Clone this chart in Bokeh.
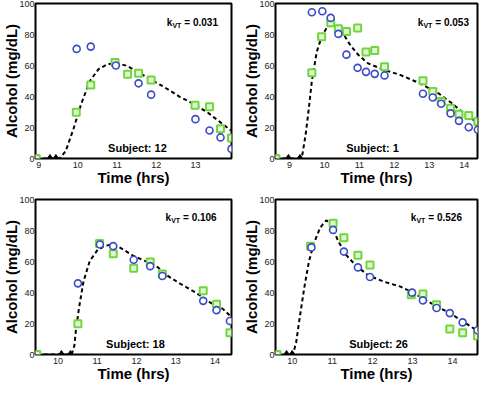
from bokeh.plotting import figure
from bokeh.layouts import gridplot
from bokeh.models import Range1d, FixedTicker, Label
from bokeh.embed import file_html
from bokeh.resources import INLINE

# ---------------- data ----------------
subjects = ["12", "1", "18", "26"]
k_vt = ["0.031", "0.053", "0.106", "0.526"]

# Subject 12
s12_blue_t = [9.97, 10.33, 10.97, 11.55, 11.87, 13.00, 13.36, 13.64, 13.92]
s12_blue_c = [70.7, 72.2, 60.0, 48.5, 41.2, 25.4, 18.1, 13.6, 6.2]
s12_green_t = [8.94, 9.96, 10.33, 10.95, 11.27, 11.55, 11.87, 12.99, 13.36, 13.64, 13.92]
s12_green_c = [0.0, 29.9, 47.4, 61.9, 54.4, 55.0, 50.7, 34.4, 33.4, 19.2, 13.2]
s12_dose_t = [9.29, 9.44]
s12_fit_t = [8.94, 9.53, 9.69, 9.89, 10.09, 10.31, 10.53, 10.77, 11.01, 11.25, 11.57, 11.89, 12.21, 12.60, 13.00, 13.32, 13.64, 13.90]
s12_fit_c = [0.0, 0.0, 4.7, 19.2, 35.6, 50.1, 57.7, 61.0, 61.4, 59.8, 55.3, 50.5, 46.0, 39.8, 34.6, 29.5, 23.3, 18.1]

# Subject 1
s1_blue_t = [9.64, 9.94, 10.18, 10.40, 10.63, 10.95, 11.19, 11.44, 11.72, 12.82, 13.10, 13.34, 13.61, 13.85, 14.13, 14.39]
s1_blue_c = [94.4, 95.0, 90.7, 80.4, 67.0, 58.5, 55.9, 54.6, 53.6, 41.8, 39.4, 35.3, 29.1, 24.3, 20.2, 18.6]
s1_green_t = [8.61, 9.64, 9.92, 10.18, 10.40, 10.63, 10.95, 11.19, 11.44, 11.72, 12.82, 13.10, 13.34, 13.61, 13.85, 14.13, 14.39]
s1_green_c = [0.0, 55.3, 78.6, 87.6, 83.7, 81.9, 84.2, 68.7, 69.7, 59.2, 50.1, 43.3, 36.7, 32.5, 28.5, 27.8, 23.9]
s1_dose_t = [8.97, 9.30]
s1_fit_t = [8.61, 9.30, 9.37, 9.46, 9.55, 9.64, 9.78, 9.92, 10.06, 10.21, 10.33, 10.52, 10.75, 10.98, 11.25, 11.62, 12.18, 12.73, 13.28, 13.65, 14.02, 14.37]
s1_fit_c = [0.0, 0.0, 2.7, 15.0, 31.5, 50.0, 68.7, 78.6, 84.1, 86.2, 85.6, 81.1, 72.8, 66.6, 61.4, 57.9, 53.8, 48.5, 41.8, 35.6, 28.5, 23.3]

# Subject 18
s18_blue_t = [10.51, 11.07, 11.41, 11.93, 12.35, 12.66, 13.70, 14.04, 14.38]
s18_blue_c = [45.9, 71.0, 69.9, 61.1, 57.0, 50.6, 34.6, 28.6, 21.6]
s18_green_t = [9.46, 10.51, 11.06, 11.41, 11.93, 12.35, 12.66, 13.70, 14.04, 14.38]
s18_green_c = [0.0, 19.9, 71.6, 65.0, 55.6, 59.6, 51.9, 41.1, 32.5, 14.0]
s18_dose_t = [10.09, 10.32]
s18_fit_t = [9.46, 10.35, 10.42, 10.46, 10.54, 10.65, 10.81, 11.01, 11.21, 11.42, 11.68, 11.91, 12.23, 12.55, 12.78, 13.10, 13.49, 13.88, 14.20, 14.37]
s18_fit_c = [0.0, 0.0, 5.7, 16.0, 30.4, 46.9, 60.2, 67.5, 70.1, 71.2, 67.5, 63.8, 60.2, 56.2, 51.0, 45.9, 40.3, 33.5, 29.4, 25.3]

# Subject 26
s26_blue_t = [10.48, 11.02, 11.29, 11.64, 11.94, 12.99, 13.26, 13.60, 13.93, 14.25, 14.62]
s26_blue_c = [69.1, 80.4, 66.4, 56.2, 50.0, 39.9, 34.9, 30.0, 26.7, 20.7, 15.6]
s26_green_t = [9.62, 10.46, 11.02, 11.29, 11.64, 11.94, 12.97, 13.26, 13.60, 13.93, 14.25, 14.62]
s26_green_c = [0.0, 69.9, 84.6, 75.3, 64.0, 57.8, 38.6, 39.1, 32.1, 16.4, 14.0, 11.9]
s26_dose_t = [9.86, 10.00]
s26_fit_t = [9.62, 10.02, 10.10, 10.18, 10.30, 10.42, 10.54, 10.70, 10.85, 10.98, 11.14, 11.34, 11.58, 11.90, 12.30, 12.70, 13.02, 13.34, 13.66, 13.98, 14.30, 14.60]
s26_fit_c = [0.0, 0.0, 7.8, 22.2, 42.8, 60.2, 71.6, 81.9, 86.6, 84.0, 73.6, 64.4, 57.6, 51.0, 46.9, 43.8, 39.7, 34.9, 30.4, 25.9, 20.6, 15.6]

x_ranges = [(8.92, 13.92), (8.60, 14.38), (9.43, 14.42), (9.585, 14.62)]
x_ticks = [[9, 10, 11, 12, 13], [9, 10, 11, 12, 13, 14], [10, 11, 12, 13, 14], [10, 11, 12, 13, 14]]
y_ticks = [0, 20, 40, 60, 80, 100]

panels = [
    (s12_blue_t, s12_blue_c, s12_green_t, s12_green_c, s12_dose_t, s12_fit_t, s12_fit_c),
    (s1_blue_t, s1_blue_c, s1_green_t, s1_green_c, s1_dose_t, s1_fit_t, s1_fit_c),
    (s18_blue_t, s18_blue_c, s18_green_t, s18_green_c, s18_dose_t, s18_fit_t, s18_fit_c),
    (s26_blue_t, s26_blue_c, s26_green_t, s26_green_c, s26_dose_t, s26_fit_t, s26_fit_c),
]

# ---------------- style ----------------
FONT = "Liberation Sans"
BLUE = "#3b4bc8"
GREEN = "#70d63c"
GREEN_FILL = "#e2f7d6"

# layout (left, right, top, bottom borders) per panel
borders = [(28, 9, 3, 34), (34, 3, 3, 34), (27, 8, 7, 30), (34, 3, 7, 30)]
# kVT label right-inset (px) and top-inset (px); subject label x fraction
kvt_inset = [10, 3, 12, 10]
kvt_top = [19, 19, 18, 18]
subj_frac = [0.52, 0.48, 0.51, 0.51]

figs = []
for i, (bt, bc, gt, gc, dt, ft, fc) in enumerate(panels):
    bl, br, bt_, bb = borders[i]
    p = figure(width=240, height=192, output_backend="svg", toolbar_location=None,
               x_range=Range1d(*x_ranges[i]), y_range=Range1d(0, 100),
               min_border_left=bl, min_border_right=br, min_border_top=bt_, min_border_bottom=bb)
    p.grid.visible = False
    p.outline_line_color = "black"
    p.outline_line_width = 2
    p.outline_line_alpha = 1
    p.background_fill_color = "white"
    p.border_fill_color = "white"

    for ax in (p.xaxis[0], p.yaxis[0]):
        ax.axis_line_color = None
        ax.major_tick_line_color = None
        ax.minor_tick_line_color = None
        ax.major_tick_out = 0
        ax.major_tick_in = 0
        ax.major_label_text_font = FONT
        ax.major_label_text_font_size = "9px"
        ax.major_label_text_color = "#222222"
        ax.axis_label_text_font = FONT
        ax.axis_label_text_font_style = "bold"
        ax.axis_label_text_font_size = "15px"
        ax.axis_label_text_color = "black"
    p.xaxis.axis_label_standoff = -2
    p.yaxis.axis_label_standoff = -4
    p.xaxis.ticker = FixedTicker(ticks=x_ticks[i])
    p.yaxis.ticker = FixedTicker(ticks=y_ticks)
    p.xaxis.axis_label = "Time (hrs)"
    p.yaxis.axis_label = "Alcohol (mg/dL)"
    p.xaxis.major_label_standoff = 3
    p.yaxis.major_label_standoff = 1

    p.line(ft, fc, line_color="black", line_width=2, line_dash="4 3")
    p.scatter(dt, [0] * len(dt), marker="diamond", size=8, fill_color="black", line_color="black")
    p.scatter(gt, gc, marker="square", size=7, line_color=GREEN, line_width=2, fill_color=GREEN_FILL)
    p.scatter(bt, bc, marker="circle", size=7, line_color=BLUE, line_width=1.6, fill_color="white")

    x0, x1 = x_ranges[i]
    frame_w = 240 - bl - br
    # kVT annotation: k + subscript VT + value
    kx = x1 - (kvt_inset[i] + 57) * (x1 - x0) / frame_w
    ky = 100 - kvt_top[i] * 100 / (192 - bt_ - bb)
    common = dict(x=kx, y=ky, text_font=FONT, text_font_style="bold", text_color="black",
                  text_baseline="alphabetic", text_align="left")
    p.add_layout(Label(text="k", text_font_size="10px", **common))
    p.add_layout(Label(text="VT", text_font_size="7px", x_offset=5.6, y_offset=-2.5, **common))
    p.add_layout(Label(text="= " + k_vt[i], text_font_size="10px", x_offset=17.5, **common))

    sx = x0 + subj_frac[i] * (x1 - x0)
    p.add_layout(Label(x=sx, y=7, text="Subject: " + subjects[i], text_font=FONT,
                       text_font_style="bold", text_font_size="11px", text_color="black",
                       text_align="center", text_baseline="middle"))
    figs.append(p)

grid = gridplot([[figs[0], figs[1]], [figs[2], figs[3]]], toolbar_location=None)
open("out.html", "w").write(file_html(grid, INLINE))
